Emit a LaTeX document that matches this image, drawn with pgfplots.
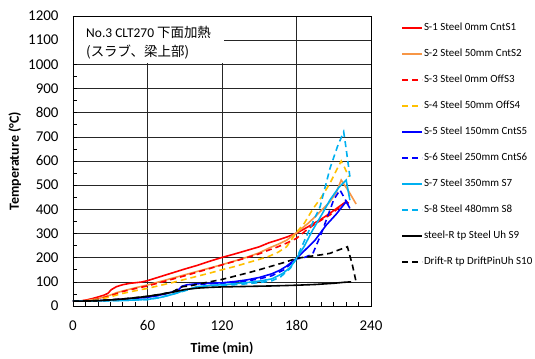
\documentclass[border=0pt]{standalone}
\usepackage{pgfplots}
\pgfplotsset{compat=1.18}
\usepackage{fontspec}
\setmainfont{Carlito}
\newfontfamily\cjk{Noto Sans CJK JP}
\definecolor{cRed}{RGB}{255,0,0}
\definecolor{cOrange}{RGB}{247,150,70}
\definecolor{cYellow}{RGB}{255,192,0}
\definecolor{cBlue}{RGB}{0,0,255}
\definecolor{cLBlue}{RGB}{0,176,240}
\begin{document}
\begin{tikzpicture}
\useasboundingbox (-73bp,-53bp) rectangle (462bp,306bp);
\begin{axis}[
  at={(0,0)}, anchor=south west,
  scale only axis, width=298bp, height=290bp,
  xmin=0, xmax=240, ymin=0, ymax=1200,
  xtick={0,60,...,240}, ytick={0,100,...,1200},
  minor x tick num=5, minor y tick num=1,
  grid=major,
  major grid style={black!85, line width=0.6pt},
  tick align=inside, xtick pos=bottom, ytick pos=left,
  major tick length=4.5bp, minor tick length=4.5bp,
  tick style={black, line width=0.6pt},
  axis line style={black, line width=0.8pt},
  /pgf/number format/assume math mode=true,
  /pgf/number format/1000 sep={},
  tick label style={font=\fontsize{15}{18}\selectfont},
  yticklabel style={xshift=-11bp},
  xticklabel style={yshift=-11bp},
  xlabel={\bfseries Time (min)},
  ylabel={\bfseries Temperature (°C)},
  label style={font=\fontsize{14}{17}\selectfont},
  xlabel style={at={(axis description cs:0.5,-0.145)}, anchor=center},
  ylabel style={at={(axis description cs:-0.195,0.5)}, anchor=center},
  legend style={at={(1.092,0.556)}, anchor=west, draw=none, fill=none,
    font=\fontsize{11}{13}\selectfont, row sep=15.3bp,
    nodes={inner sep=0.8bp}},
  legend cell align=left,
  legend image code/.code={\draw[mark repeat=2,mark phase=2,#1] plot coordinates {(0bp,0bp) (10bp,0bp) (20bp,0bp)};},
  L/.style={line width=1.6bp},
  D/.style={line width=1.6bp, dash pattern=on 6bp off 4bp},
]
\addplot[L, color=cRed] coordinates {(0,20)(5,20)(10,24)(15,30)(20,37)(25,45)(28,52)(31,68)(35,80)(40,88)(46,94)(55,99)(60,105)(70,121)(80,137)(90,153)(100,168)(110,185)(120,201)(130,215)(140,230)(150,245)(158,262)(165,273)(172,285)(180,301)(190,330)(200,360)(207,384)(214,410)(220,432)(222,425)};
\addlegendentry{S-1 Steel 0mm CntS1}
\addplot[L, color=cOrange] coordinates {(0,20)(10,22)(20,30)(25,38)(30,45)(35,55)(43,66)(50,75)(60,87)(70,101)(80,115)(90,129)(100,143)(110,157)(120,171)(130,186)(140,202)(150,220)(158,240)(165,255)(172,272)(180,303)(190,345)(200,395)(207,432)(212,470)(216,521)(222,475)(228,422)};
\addlegendentry{S-2 Steel 50mm CntS2}
\addplot[D, color=cRed] coordinates {(0,20)(10,22)(20,28)(30,42)(40,60)(50,72)(60,83)(70,97)(80,111)(90,125)(100,140)(110,155)(120,170)(130,185)(140,200)(150,216)(158,232)(165,245)(172,260)(180,280)(188,314)(195,340)(207,377)(215,410)(221,435)};
\addlegendentry{S-3 Steel 0mm OffS3}
\addplot[D, color=cYellow] coordinates {(0,20)(10,21)(20,26)(30,38)(40,52)(50,63)(60,73)(70,85)(80,97)(90,110)(100,123)(110,136)(120,150)(130,163)(140,178)(150,193)(158,206)(165,222)(172,245)(180,305)(186,340)(193,400)(200,450)(207,508)(212,560)(216,600)(219,570)(222,535)};
\addlegendentry{S-4 Steel 50mm OffS4}
\addplot[L, color=cBlue] coordinates {(0,20)(10,20)(20,22)(30,25)(40,28)(50,32)(60,36)(70,45)(75,52)(80,58)(85,68)(88,82)(92,88)(100,92)(110,94)(120,96)(130,101)(140,108)(150,118)(160,133)(167,149)(172,165)(180,197)(187,232)(195,273)(204,335)(212,380)(220,432)(223,404)};
\addlegendentry{S-5 Steel 150mm CntS5}
\addplot[D, color=cBlue] coordinates {(0,20)(20,22)(40,28)(60,36)(70,45)(80,57)(85,68)(88,82)(95,88)(100,90)(120,94)(140,104)(150,112)(160,125)(170,150)(180,195)(186,200)(193,215)(200,300)(205,370)(210,440)(215,480)(222,415)};
\addlegendentry{S-6 Steel 250mm CntS6}
\addplot[L, color=cLBlue] coordinates {(0,20)(20,21)(40,23)(60,27)(70,35)(80,48)(90,65)(100,80)(110,85)(120,88)(130,92)(140,97)(150,103)(160,112)(169,135)(175,160)(180,197)(186,245)(193,314)(200,375)(207,439)(214,490)(220,521)(223,438)};
\addlegendentry{S-7 Steel 350mm S7}
\addplot[D, color=cLBlue] coordinates {(0,20)(20,21)(40,23)(60,27)(70,35)(80,48)(90,63)(100,78)(110,83)(120,86)(130,88)(140,92)(150,97)(160,104)(167,120)(175,156)(180,197)(189,300)(199,411)(207,570)(213,660)(218,721)(220,650)(223,535)};
\addlegendentry{S-8 Steel 480mm S8}
\addplot[L, color=black] coordinates {(0,20)(10,20)(20,22)(30,25)(40,29)(50,34)(60,40)(70,48)(80,57)(90,68)(100,74)(110,77)(120,79)(140,81)(160,83)(180,86)(195,89)(210,94)(218,98)(224,100)};
\addlegendentry{steel-R tp Steel Uh S9}
\addplot[D, color=black] coordinates {(0,20)(20,22)(40,29)(60,40)(70,48)(80,58)(85,72)(88,80)(95,84)(100,90)(110,100)(120,110)(130,123)(140,136)(150,150)(160,165)(170,180)(180,197)(190,205)(200,212)(207,218)(214,232)(221,245)(225,170)(228,100)};
\addlegendentry{Drift-R tp DriftPinUh S10}
\path[fill=white] ([xshift=1bp]axis cs:0,1005) rectangle ([yshift=-1bp]axis cs:121.5,1200);
\node[anchor=west, font=\fontsize{13.5}{16}\selectfont, inner sep=0pt] at (axis cs:10.5,1133) {No.3 CLT270 {\cjk 下面加熱}};
\node[anchor=west, font=\fontsize{13.5}{16}\selectfont, inner sep=0pt] at (axis cs:10.5,1051) {{\cjk (スラブ、梁上部)}};
\end{axis}
\end{tikzpicture}
\end{document}
